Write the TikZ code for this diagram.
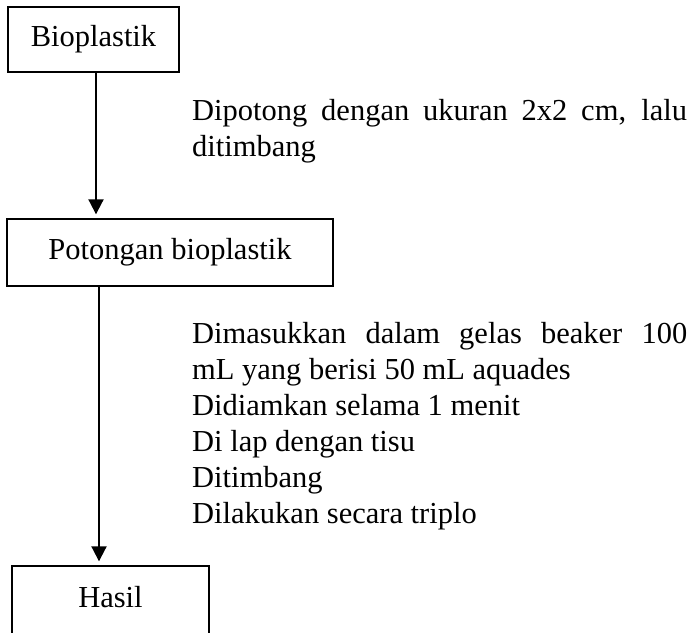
\documentclass[tikz,border=0pt]{standalone}
\usepackage{fontspec}
\setmainfont{Liberation Serif}
\usetikzlibrary{arrows.meta}
\hbadness=10000
\tikzset{
  txt/.style={font=\fontsize{30.5}{36}\selectfont},
  box/.style={txt, draw=black, line width=1.4pt, inner sep=0pt, align=center},
  note/.style={txt, anchor=base west, inner sep=0pt, text width=495pt, align=justify},
  arr/.style={line width=2pt, -{Triangle[width=15pt,length=15pt]}, shorten >=4pt}
}
\begin{document}
\begin{tikzpicture}[x=1pt, y=-1pt]
\useasboundingbox (0,0) rectangle (690,632);
\clip (0,0) rectangle (690,632);
\node[box, minimum width=171pt, minimum height=65pt] (b1) at (93.5,39.5) {Bioplastik};
\node[box, minimum width=326pt, minimum height=67pt] (b2) at (170,252.5) {Potongan bioplastik};
\node[box, minimum width=197pt, minimum height=68pt, text depth=6pt] (b3) at (110.5,600) {Hasil};
\node[note] (t1) at (192,120) {Dipotong dengan ukuran 2x2 cm, lalu\linebreak ditimbang};
\node[note] (t2) at (192,343) {Dimasukkan dalam gelas beaker 100\linebreak mL yang berisi 50 mL aquades\par Didiamkan selama 1 menit\par Di lap dengan tisu\par Ditimbang\par Dilakukan secara triplo};
\draw[arr] ([xshift=2.5pt]b1.south) -- ([xshift=2.5pt]b1.south |- b2.north);
\draw[arr] ([xshift=-11.5pt]b3.north |- b2.south) -- ([xshift=-11.5pt]b3.north);
\end{tikzpicture}
\end{document}
